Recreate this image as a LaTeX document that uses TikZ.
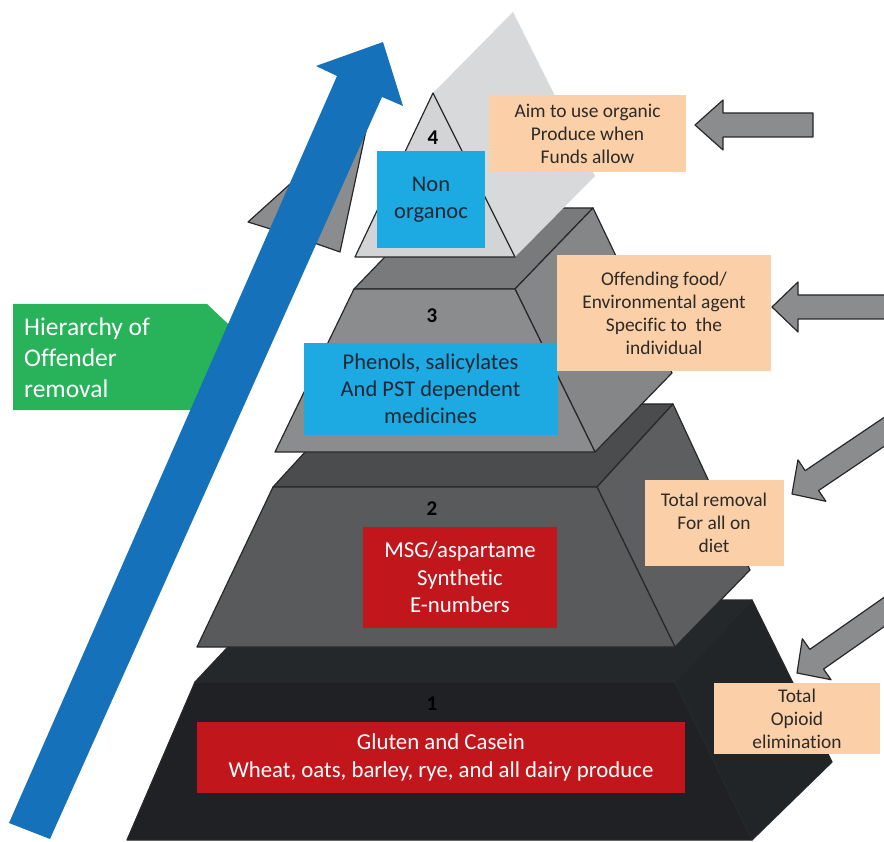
\documentclass[tikz,border=0pt]{standalone}
\usepackage{fontspec}
\setmainfont{Carlito}[Ligatures={NoCommon,NoRare,NoDiscretionary}]

\definecolor{trait}{RGB}{40,40,42}
\definecolor{bleu_fleche}{RGB}{21,113,186}
\definecolor{gris_fleche}{RGB}{139,140,142}
\definecolor{vert_titre}{RGB}{40,178,90}
\definecolor{bleu_boite}{RGB}{29,170,226}
\definecolor{texte_boite}{RGB}{30,40,52}
\definecolor{rouge_boite}{RGB}{194,22,29}
\definecolor{peche_boite}{RGB}{251,207,168}
\definecolor{texte_peche}{RGB}{45,42,40}
\definecolor{t1front}{RGB}{31,33,36}
\definecolor{t1top}{RGB}{37,40,43}
\definecolor{t1side}{RGB}{34,37,40}
\definecolor{t2front}{RGB}{88,90,92}
\definecolor{t2top}{RGB}{74,76,78}
\definecolor{t2side}{RGB}{92,94,96}
\definecolor{t3front}{RGB}{139,140,142}
\definecolor{t3top}{RGB}{121,122,124}
\definecolor{t3side}{RGB}{133,134,136}
\definecolor{t4front}{RGB}{210,212,213}
\definecolor{t4side}{RGB}{216,217,218}

\begin{document}
\begin{tikzpicture}[
  x=1pt, y=-1pt,
  %  Styles for the faces of the pyramid and the arrows
  face_style/.style={draw=trait, line width=1.2pt, line join=round},
  arrow_style/.style={fill=gris_fleche, draw=trait, line width=1.2pt, line join=round},
  %  Styles for the text boxes
  blue_style/.style={rectangle, fill=bleu_boite, text=texte_boite, inner sep=0pt, align=center, font=\fontsize{22.5}{27}\selectfont},
  red_style/.style={rectangle, fill=rouge_boite, text=white, inner sep=0pt, align=center, font=\fontsize{22.8}{27.5}\selectfont},
  peach_style/.style={rectangle, fill=peche_boite, text=texte_peche, inner sep=0pt, align=center, font=\fontsize{19.4}{23}\selectfont},
  num_style/.style={inner sep=0pt, text=black, font=\fontsize{21}{21}\selectfont\bfseries}
]
\useasboundingbox (0,0) rectangle (884,842);

%  Arrows on the right
\filldraw[arrow_style, shift={(695,125)}] (0,0) -- (28,-25) -- (28,-12) -- (118,-12) -- (118,12) -- (28,12) -- (28,25) -- cycle;
\filldraw[arrow_style, shift={(772,307)}] (0,0) -- (26,-25) -- (26,-12) -- (140,-12) -- (140,12) -- (26,12) -- (26,25) -- cycle;
\filldraw[arrow_style, shift={(792,494)}, rotate=34] (0,0) -- (24,-25) -- (24,-12) -- (130,-12) -- (130,12) -- (24,12) -- (24,25) -- cycle;
\filldraw[arrow_style, shift={(797,673)}, rotate=35] (0,0) -- (24,-25) -- (24,-12) -- (130,-12) -- (130,12) -- (24,12) -- (24,25) -- cycle;

%  Tier 1
\filldraw[face_style, fill=t1top] (195,682) -- (675,682) -- (752,600) -- (272,600) -- cycle;
\filldraw[face_style, fill=t1side] (675,682) -- (752,840) -- (832,762) -- (752,600) -- cycle;
\filldraw[face_style, fill=t1front] (195,682) -- (675,682) -- (752,840) -- (127,840) -- cycle;

%  Tier 2
\filldraw[face_style, fill=t2top] (273,487) -- (597,487) -- (673,404) -- (349,404) -- cycle;
\filldraw[face_style, fill=t2side] (597,487) -- (675,647) -- (750,570) -- (673,404) -- cycle;
\filldraw[face_style, fill=t2front] (273,487) -- (597,487) -- (675,647) -- (197,647) -- cycle;

%  Tier 3
\filldraw[face_style, fill=t3top] (354,289) -- (515,289) -- (593,208) -- (432,208) -- cycle;
\filldraw[face_style, fill=t3side] (515,289) -- (595,452) -- (672,373) -- (593,208) -- cycle;
\filldraw[face_style, fill=t3front] (354,289) -- (515,289) -- (595,452) -- (275,452) -- cycle;

%  Tier 4
\fill[t4side] (433,93) -- (513,12) -- (595,176) -- (515,257) -- cycle;
\filldraw[face_style, fill=t4front] (433,93) -- (515,257) -- (355,257) -- cycle;

%  Tier numbers
\node[num_style] (num4) at (433,138) {4};
\node[num_style] (num3) at (432,316) {3};
\node[num_style] (num2) at (432,509) {2};
\node[num_style] (num1) at (432,704) {1};

%  Hierarchy label and arrows
\fill[vert_titre] (13,304) -- (207,304) -- (262,356) -- (207,410) -- (13,410) -- cycle;
\node[anchor=west, inner sep=0pt, align=left, text=white, font=\fontsize{25.5}{31}\selectfont] (titre) at (24,358) {Hierarchy of\\Offender\\removal};
\filldraw[arrow_style] (248,222) -- (370,112) -- (340,252) -- (300,238) -- cycle;
\fill[bleu_fleche] (9,823) -- (337,76) -- (316,66) -- (383,42) -- (403,106) -- (382,97) -- (50,839) -- cycle;

%  Boxes on the tiers
\node[blue_style, minimum width=108pt, minimum height=97pt] (nonorg) at (431,199.5) {Non\\organoc};
\node[blue_style, minimum width=254pt, minimum height=92pt] (phenols) at (430.5,389) {Phenols, salicylates\\And PST dependent\\medicines};
\node[red_style, minimum width=194pt, minimum height=101pt] (msg) at (460,577.5) {MSG/aspartame\\Synthetic\\E-numbers};
\node[red_style, minimum width=488pt, minimum height=71pt] (gluten) at (441,757.5) {Gluten and Casein\\Wheat, oats, barley, rye, and all dairy produce};

%  Boxes on the right
\node[peach_style, minimum width=197pt, minimum height=77pt] (organic) at (587.5,134) {Aim to use organic\\Produce when\\Funds allow};
\node[peach_style, minimum width=214pt, minimum height=116pt] (offending) at (664,313) {Offending food/\\Environmental agent\\Specific to\ \ the\\individual};
\node[peach_style, minimum width=139pt, minimum height=86pt] (removal) at (714,522.5) {Total removal\\For all on\\diet};
\node[peach_style, minimum width=166pt, minimum height=71pt] (opioid) at (797,718.5) {Total\\Opioid\\elimination};
\end{tikzpicture}
\end{document}
